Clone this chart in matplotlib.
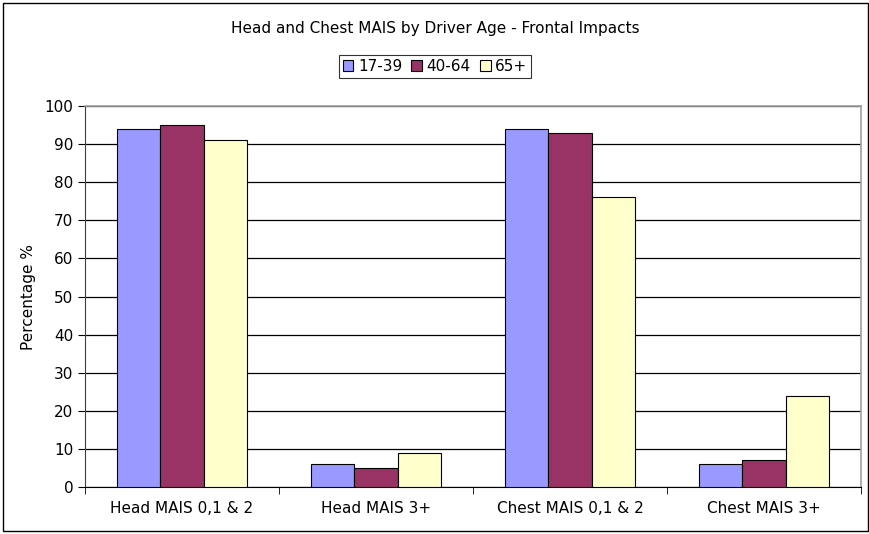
import numpy as np
import matplotlib
matplotlib.use('Agg')
import matplotlib.pyplot as plt
from matplotlib.patches import Rectangle

plt.rcParams['font.family'] = ['DejaVu Sans']

categories = ['Head MAIS 0,1 & 2', 'Head MAIS 3+', 'Chest MAIS 0,1 & 2', 'Chest MAIS 3+']
series = ['17-39', '40-64', '65+']
age_17_39 = [94, 6, 94, 6]
age_40_64 = [95, 5, 93, 7]
age_65 = [91, 9, 76, 24]
colors = ['#9999FF', '#993366', '#FFFFCC']

FS = 11

fig = plt.figure(figsize=(8.7, 5.34), dpi=100)
fig.patches.append(Rectangle((0.004, 0.006), 0.994, 0.989, transform=fig.transFigure,
                             fill=False, edgecolor='black', linewidth=1.0))

ax = fig.add_axes([0.0977, 0.088, 0.8920, 0.7135])

x = np.arange(len(categories))
w = 1 / 4.5
for i, (vals, name) in enumerate(zip([age_17_39, age_40_64, age_65], series)):
    ax.bar(x + (i - 1) * w, vals, w, color=colors[i], edgecolor='black',
           linewidth=0.8, label=name, zorder=3)

ax.set_xlim(-0.5, len(categories) - 0.5)
ax.set_ylim(0, 100)
ax.set_yticks(range(0, 101, 10))
ax.yaxis.grid(True, color='black', linewidth=0.9, zorder=0)
ax.set_axisbelow(True)

ax.set_xticks(x)
ax.set_xticklabels(categories, fontsize=FS)
ax.tick_params(axis='x', length=0, pad=10)
ax.set_xticks(np.arange(-0.5, len(categories), 1), minor=True)
ax.tick_params(axis='x', which='minor', length=5, direction='out', color='black')
ax.tick_params(axis='y', labelsize=FS, length=5, direction='out', color='black')

for s in ['top', 'right']:
    ax.spines[s].set_color('#A0A0A0')
    ax.spines[s].set_linewidth(1.2)
ax.spines['left'].set_color('#404040')
ax.spines['bottom'].set_color('black')

ax.set_ylabel('Percentage %', fontsize=FS, labelpad=6)

fig.text(0.5, 1 - 28 / 534, 'Head and Chest MAIS by Driver Age - Frontal Impacts',
         ha='center', va='center', fontsize=FS)

leg = fig.legend(loc='upper center', bbox_to_anchor=(0.5, 1 - 55 / 534), ncol=3,
                 fontsize=FS, frameon=True, fancybox=False, edgecolor='black',
                 handlelength=0.7, handleheight=0.7, handletextpad=0.3,
                 columnspacing=0.6, borderpad=0.25, borderaxespad=0)
leg.get_frame().set_linewidth(0.8)

fig.savefig('out.png', dpi=100, facecolor='white')
